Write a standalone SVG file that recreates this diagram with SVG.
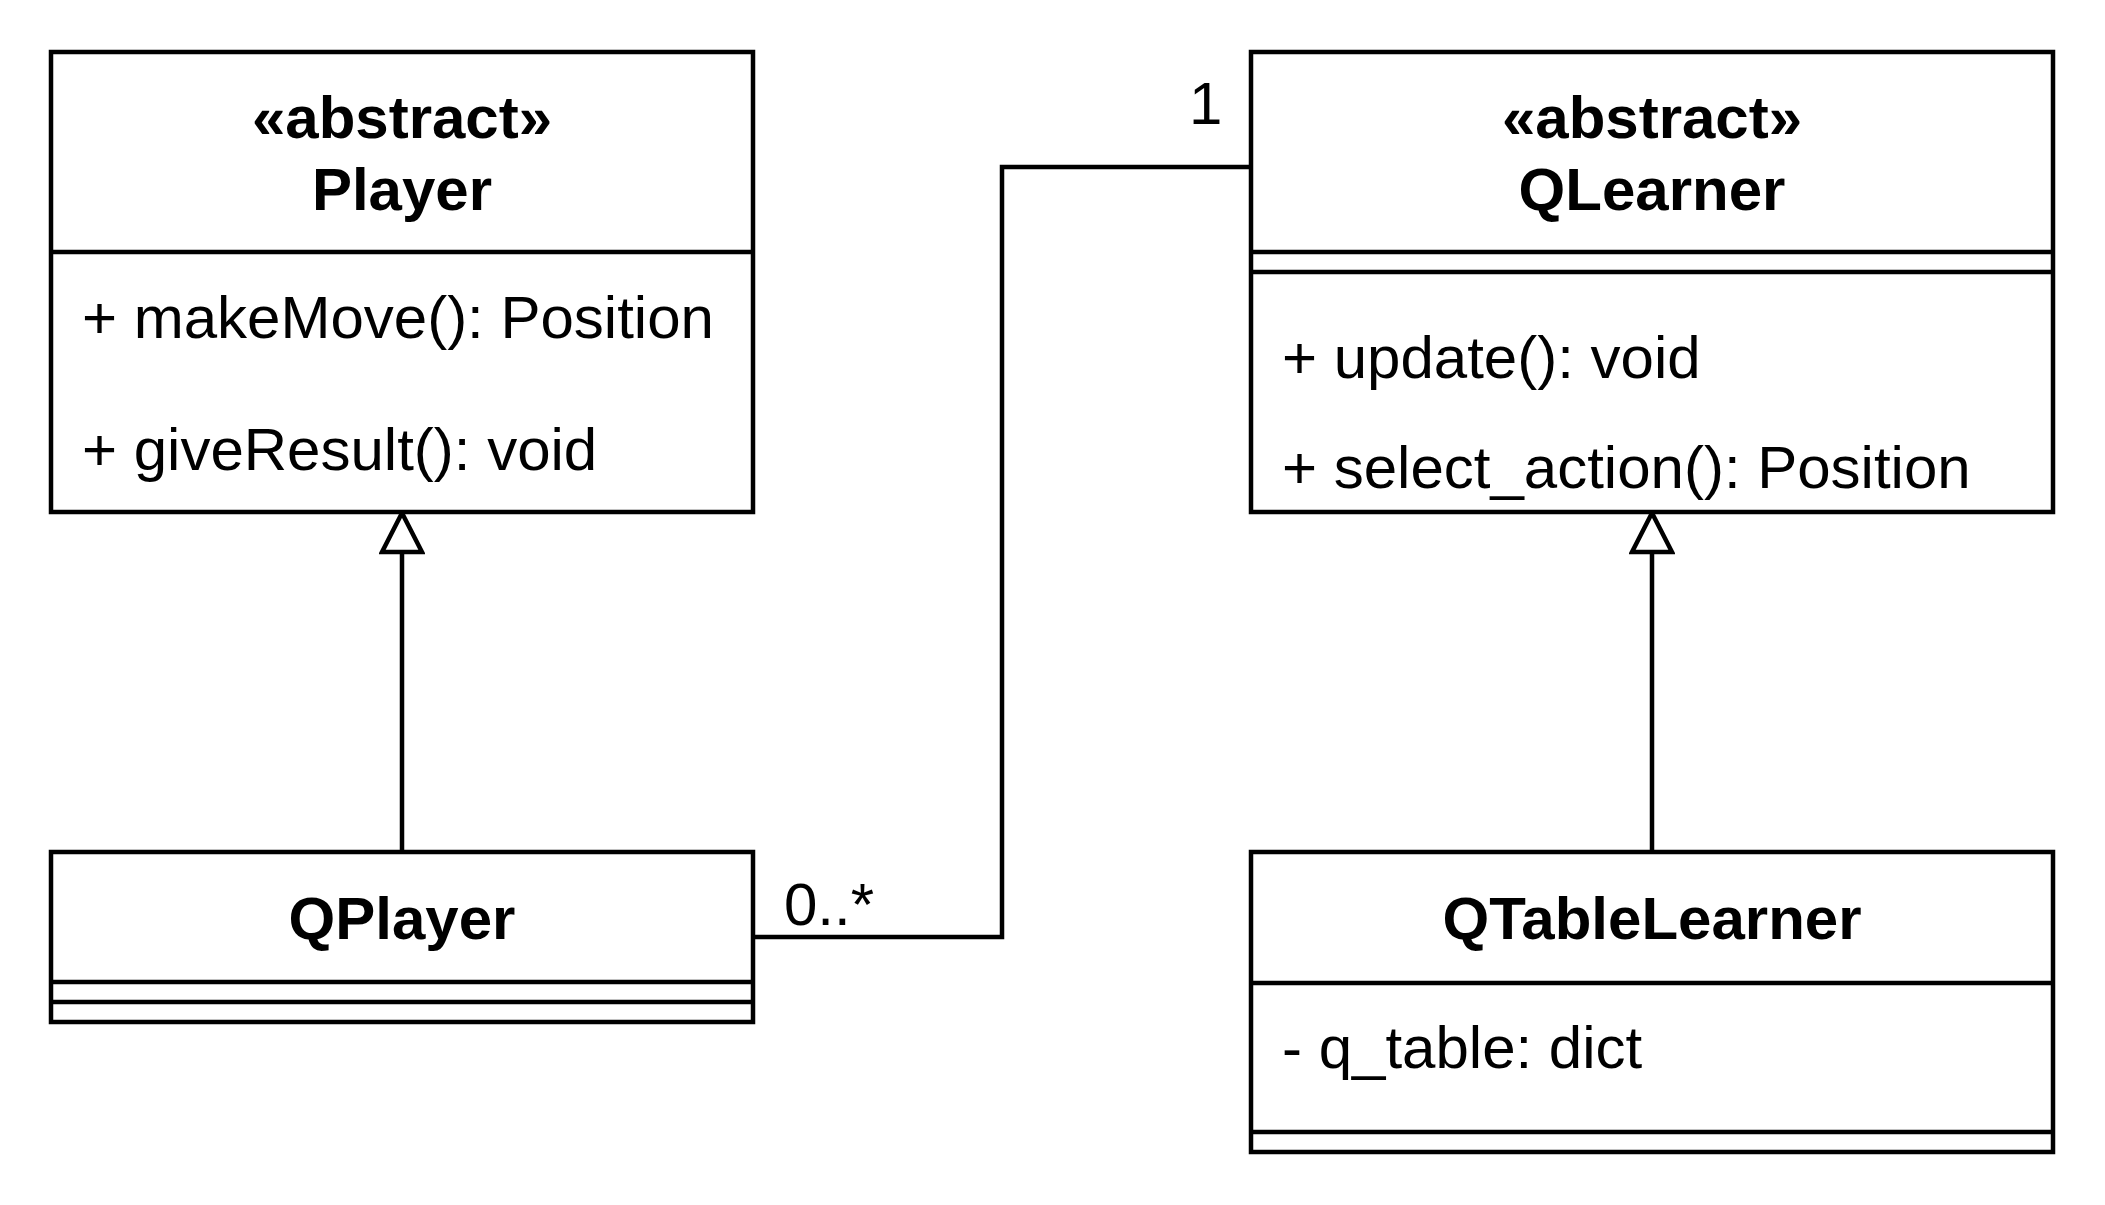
<svg xmlns="http://www.w3.org/2000/svg" width="2105" height="1205" viewBox="0 0 2105 1205">
<style>
.box{fill:#fff;stroke:#000;stroke-width:4.5}
.ln{fill:none;stroke:#000;stroke-width:4.5}
.t{font-family:"Liberation Sans",Arial,sans-serif;font-size:60px;fill:#000}
.b{font-weight:bold;text-anchor:middle}
</style>
<defs>
<marker id="gen" markerUnits="userSpaceOnUse" markerWidth="46" markerHeight="46" viewBox="0 0 46 46" refX="43" refY="23" orient="auto">
<path d="M4,3 L43,23 L4,43 Z" fill="#fff" stroke="#000" stroke-width="4.5"/>
</marker>
</defs>
<rect width="2105" height="1205" fill="#fff"/>
<g id="connectors">
<path class="ln" d="M402,851 V513" marker-end="url(#gen)"/>
<path class="ln" d="M1652,851 V513" marker-end="url(#gen)"/>
<path class="ln" d="M753,937 H1002 V167 H1251"/>
<text class="t" x="784" y="925">0..*</text>
<text class="t" x="1189" y="124">1</text>
</g>
<g id="Player">
<rect class="box" x="51" y="52" width="702" height="460"/>
<line class="ln" x1="51" y1="252" x2="753" y2="252"/>
<text class="t b" x="402" y="138">«abstract»</text>
<text class="t b" x="402" y="210">Player</text>
<text class="t" x="82" y="338">+ makeMove(): Position</text>
<text class="t" x="82" y="470">+ giveResult(): void</text>
</g>
<g id="QLearner">
<rect class="box" x="1251" y="52" width="802" height="460"/>
<line class="ln" x1="1251" y1="252" x2="2053" y2="252"/>
<line class="ln" x1="1251" y1="272" x2="2053" y2="272"/>
<text class="t b" x="1652" y="138">«abstract»</text>
<text class="t b" x="1652" y="210">QLearner</text>
<text class="t" x="1282" y="378">+ update(): void</text>
<text class="t" x="1282" y="488">+ select_action(): Position</text>
</g>
<g id="QPlayer">
<rect class="box" x="51" y="852" width="702" height="170"/>
<line class="ln" x1="51" y1="982" x2="753" y2="982"/>
<line class="ln" x1="51" y1="1002" x2="753" y2="1002"/>
<text class="t b" x="402" y="939">QPlayer</text>
</g>
<g id="QTableLearner">
<rect class="box" x="1251" y="852" width="802" height="300"/>
<line class="ln" x1="1251" y1="983" x2="2053" y2="983"/>
<line class="ln" x1="1251" y1="1132" x2="2053" y2="1132"/>
<text class="t b" x="1652" y="939">QTableLearner</text>
<text class="t" x="1282" y="1068">- q_table: dict</text>
</g>
</svg>
